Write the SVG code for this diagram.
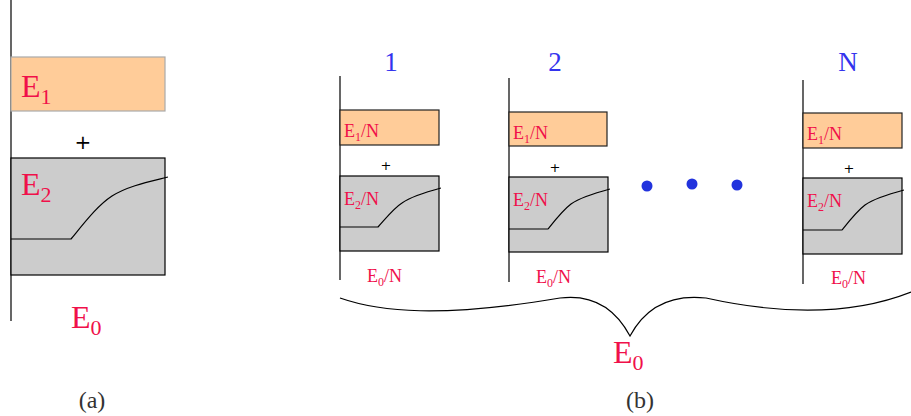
<svg xmlns="http://www.w3.org/2000/svg" width="911" height="416" viewBox="0 0 911 416">
<style>
.ax{stroke:#000;stroke-width:1.2;fill:none}
.e1{fill:#ffcc99;stroke:#222;stroke-width:1.2}
.e1a{fill:#ffcc99;stroke:#aaa;stroke-width:1.2}
.e2{fill:#cccccc;stroke:#000;stroke-width:1.2}
.cv{stroke:#000;stroke-width:1.2;fill:none}
.r{font-family:"Liberation Serif",serif;fill:#f0104a}
.b{font-family:"Liberation Serif",serif;fill:#3333ee;font-size:27px;text-anchor:middle}
.p{font-family:"DejaVu Sans",sans-serif;fill:#000;text-anchor:middle}
.cap{font-family:"Liberation Serif",serif;fill:#333;font-size:24px;text-anchor:middle}
.dot{fill:#2233dd}
</style>
<g id="panel-a">
<line class="ax" x1="11" y1="0" x2="11" y2="321"/>
<rect class="e1a" x="11" y="57" width="154" height="54"/>
<text class="r" x="21" y="97" font-size="32">E<tspan font-size="22" dy="7">1</tspan></text>
<text class="p" x="83" y="149" font-size="20">+</text>
<rect class="e2" x="11" y="158" width="154" height="117"/>
<text class="r" x="21" y="195" font-size="32">E<tspan font-size="22" dy="7">2</tspan></text>
<path class="cv" d="M11,239 L71,239 C85,222 98,205 112,196 C128,186 148,182 168,177"/>
<text class="r" x="71" y="328" font-size="32">E<tspan font-size="22" dy="7">0</tspan></text>
<text class="cap" x="92" y="408">(a)</text>
</g>
<g id="cell-1">
<text class="b" x="391" y="71">1</text>
<line class="ax" x1="340" y1="76" x2="340" y2="280"/>
<rect class="e1" x="340" y="110" width="99" height="35"/>
<text class="r" x="344" y="137" font-size="18">E<tspan font-size="12" dy="4">1</tspan><tspan dy="-4">/N</tspan></text>
<text class="p" x="386" y="170" font-size="13">+</text>
<rect class="e2" x="340" y="176" width="99" height="75"/>
<text class="r" x="344" y="205" font-size="18">E<tspan font-size="12" dy="4">2</tspan><tspan dy="-4">/N</tspan></text>
<path class="cv" d="M340,227 L378,227 C387,217 394,208 402,203 C412,196 426,192 441,188"/>
<text class="r" x="367" y="282" font-size="18">E<tspan font-size="12" dy="4">0</tspan><tspan dy="-4">/N</tspan></text>
</g>
<g id="cell-2">
<text class="b" x="555" y="71">2</text>
<line class="ax" x1="509" y1="78" x2="509" y2="282"/>
<rect class="e1" x="509" y="112" width="98" height="34"/>
<text class="r" x="513" y="139" font-size="18">E<tspan font-size="12" dy="4">1</tspan><tspan dy="-4">/N</tspan></text>
<text class="p" x="555" y="172" font-size="13">+</text>
<rect class="e2" x="509" y="177" width="99" height="75"/>
<text class="r" x="513" y="206" font-size="18">E<tspan font-size="12" dy="4">2</tspan><tspan dy="-4">/N</tspan></text>
<path class="cv" d="M509,229 L548,229 C556,219 563,210 571,204 C581,197 595,193 610,189"/>
<text class="r" x="536" y="283" font-size="18">E<tspan font-size="12" dy="4">0</tspan><tspan dy="-4">/N</tspan></text>
</g>
<g id="dots">
<circle class="dot" cx="647" cy="186" r="5.5"/>
<circle class="dot" cx="692" cy="184" r="5.5"/>
<circle class="dot" cx="737" cy="185" r="5.5"/>
</g>
<g id="cell-N">
<text class="b" x="848" y="71">N</text>
<line class="ax" x1="803" y1="80" x2="803" y2="284"/>
<rect class="e1" x="803" y="113" width="99" height="35"/>
<text class="r" x="807" y="140" font-size="18">E<tspan font-size="12" dy="4">1</tspan><tspan dy="-4">/N</tspan></text>
<text class="p" x="849" y="173" font-size="13">+</text>
<rect class="e2" x="803" y="178" width="99" height="76"/>
<text class="r" x="807" y="207" font-size="18">E<tspan font-size="12" dy="4">2</tspan><tspan dy="-4">/N</tspan></text>
<path class="cv" d="M803,230 L842,230 C850,220 857,211 865,205 C875,198 889,194 904,190"/>
<text class="r" x="831" y="284" font-size="18">E<tspan font-size="12" dy="4">0</tspan><tspan dy="-4">/N</tspan></text>
</g>
<g id="brace">
<path class="cv" d="M340,298 C380,312 440,318 560,298 C592,294 615,308 630,336 C645,308 670,294 706,298 C760,310 840,320 911,292"/>
<text class="r" x="613" y="363" font-size="32">E<tspan font-size="22" dy="7">0</tspan></text>
<text class="cap" x="640" y="408">(b)</text>
</g>
</svg>
